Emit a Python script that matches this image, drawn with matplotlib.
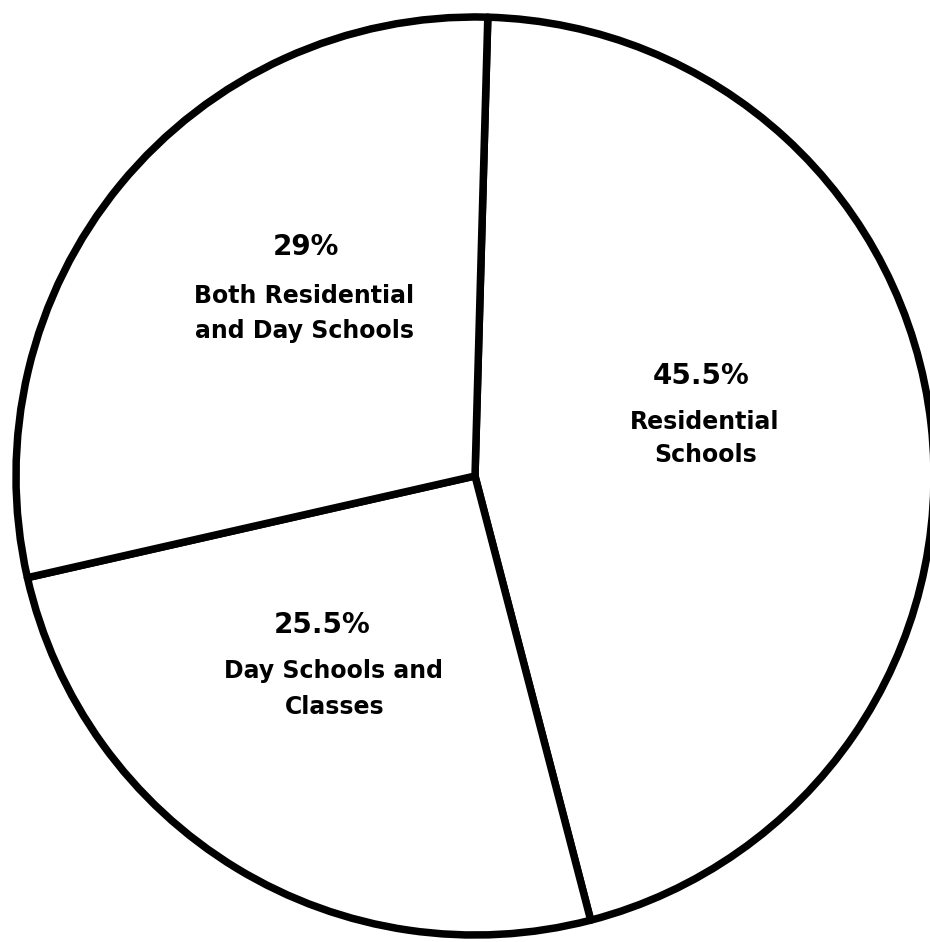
import matplotlib.pyplot as plt

labels = ["Residential\nSchools", "Day Schools and\nClasses", "Both Residential\nand Day Schools"]
shares = [45.5, 25.5, 29.0]
pct_text = ["45.5%", "25.5%", "29%"]

# text baselines in pixels from the top: (x, y) for percent, then each label line
text_pos = [
    [(701, 384), (705, 429), (706, 462)],
    [(322, 633), (333, 678), (335, 714)],
    [(306, 255), (304, 303), (304, 338)],
]

W, H = 930, 942
fig = plt.figure(figsize=(W / 100, H / 100), dpi=100)
ax = fig.add_axes([0, 0, 1, 1])

ax.pie(shares, center=(475, H - 476), radius=459, startangle=88.4,
       counterclock=False, colors=["white"] * 3,
       wedgeprops=dict(edgecolor="black", linewidth=5.4, joinstyle="round"))
ax.set_xlim(0, W)
ax.set_ylim(0, H)
ax.set_aspect("equal")
ax.axis("off")

font = ["DejaVu Sans"]
for pos, p, lab in zip(text_pos, pct_text, labels):
    x, y = pos[0]
    ax.text(x, H - y, p, ha="center", va="baseline", fontsize=20,
            fontweight="bold", family=font)
    for (x, y), line in zip(pos[1:], lab.split("\n")):
        ax.text(x, H - y, line, ha="center", va="baseline", fontsize=17,
                fontweight="bold", family=font)

fig.savefig("out.png", dpi=100, facecolor="white")
